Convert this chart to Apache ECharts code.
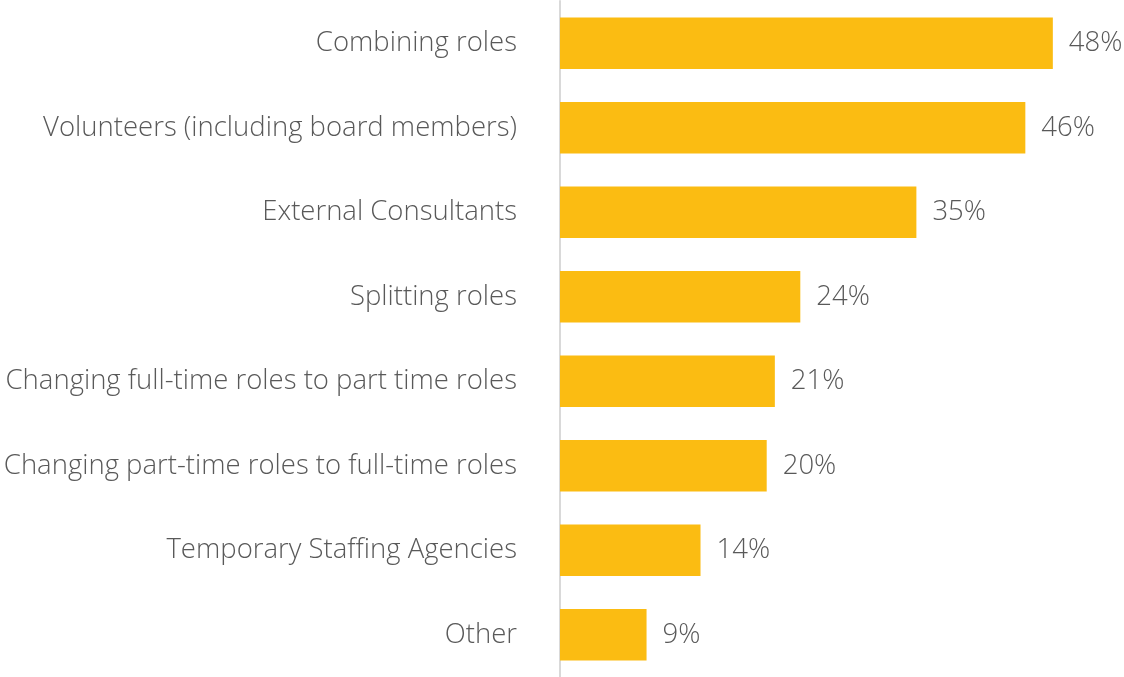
<!DOCTYPE html>
<html>
<head>
<meta charset="utf-8">
<script src="https://cdn.jsdelivr.net/npm/echarts@6/dist/echarts.min.js"></script>
<style>
  html, body { margin: 0; padding: 0; background: #fff; }
  #chart { width: 1124px; height: 677px; }
</style>
</head>
<body>
<div id="chart"></div>
<script>
// categories top to bottom
const categories = [
    'Combining roles',
    'Volunteers (including board members)',
    'External Consultants',
    'Splitting roles',
    'Changing full-time roles to part time roles',
    'Changing part-time roles to full-time roles',
    'Temporary Staffing Agencies',
    'Other'
];
// share of respondents, % (labels are rounded)
const shares = [48.4, 45.7, 35.0, 23.6, 21.1, 20.3, 13.8, 8.5];

const myChart = echarts.init(document.getElementById('chart'));
myChart.setOption({
    animation: false,
    textStyle: { fontFamily: 'Open Sans', fontWeight: 300 },
    grid: { left: 560, right: 6, top: 1, bottom: 0, containLabel: false },
    xAxis: {
        type: 'value',
        min: 0,
        max: 54.8,
        show: false
    },
    yAxis: {
        type: 'category',
        inverse: true,
        data: categories,
        axisLine: { show: true, lineStyle: { color: '#d9d9d9', width: 2 } },
        axisTick: { show: false },
        axisLabel: {
            color: '#595959', fontSize: 27.5, fontWeight: 300, fontFamily: 'Open Sans',
            margin: 43, padding: [0, 0, 4, 0]
        }
    },
    series: [{
        type: 'bar',
        data: shares,
        barCategoryGap: '39%',
        itemStyle: { color: '#FBBC12' },
        label: {
            show: true,
            position: 'right',
            distance: 16,
            color: '#595959',
            fontSize: 27.5,
            fontWeight: 300,
            fontFamily: 'Open Sans',
            formatter: p => Math.round(p.value) + '%'
        }
    }]
});
</script>
</body>
</html>
